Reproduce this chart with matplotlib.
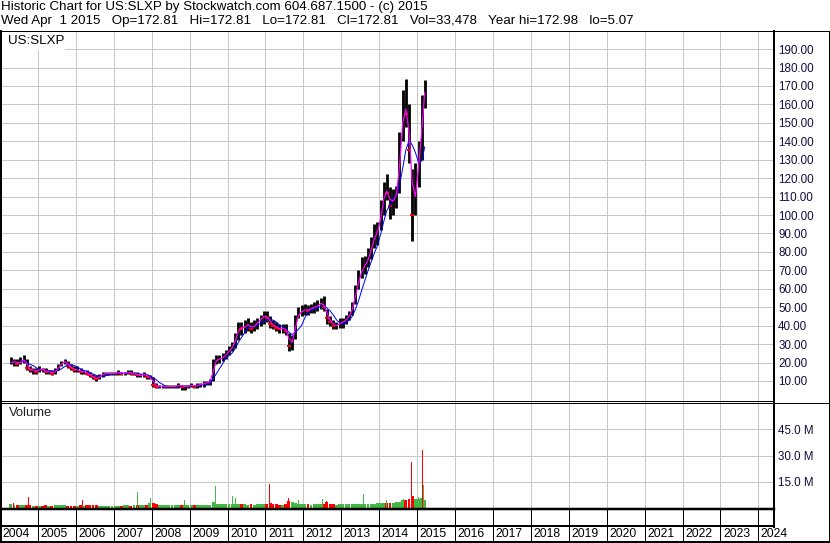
import matplotlib
matplotlib.use('Agg')
import matplotlib.pyplot as plt
import matplotlib.dates as mdates
import pandas as pd
import numpy as np

plt.rcParams['font.family'] = ['Liberation Sans', 'DejaVu Sans']

# monthly price bars, Apr 2004 .. Mar 2015 (last bar includes Apr 1 2015)
months = pd.date_range('2004-04-01', periods=132, freq='MS') + pd.Timedelta(days=14)

lows = [19, 18, 18, 19, 20, 16, 15, 14, 14,
        15, 15, 14, 14, 13, 14, 16, 18, 19, 17, 16, 15,
        15, 14, 14, 13, 12, 11, 10, 11, 12, 13, 13, 13,
        13, 13, 13, 13, 14, 13, 13, 12, 12, 12, 11, 11,
        7, 6, 6, 6, 6, 6, 6, 6, 6, 5, 5, 6,
        7, 6, 6, 7, 7, 8, 8, 10, 19, 20, 21, 22,
        24, 26, 28, 32, 35, 36, 37, 36, 37, 38, 40, 41,
        42, 39, 38, 37, 36, 36, 35, 26, 27, 33, 44, 45,
        46, 46, 47, 47, 48, 49, 48, 41, 40, 38, 38, 39,
        39, 41, 43, 46, 52, 60, 66, 68, 72, 76, 82, 84,
        92, 100, 108, 98, 100, 104, 112, 140, 148, 128, 86, 100,
        115, 130, 158]
highs = [23, 22, 22, 23, 24, 22, 18, 17, 17,
         18, 17, 17, 16, 16, 17, 19, 21, 22, 21, 19, 18,
         18, 17, 16, 16, 15, 14, 13, 14, 15, 15, 15, 15,
         15, 16, 15, 15, 16, 16, 15, 15, 14, 15, 14, 13,
         12, 9, 8, 8, 8, 8, 8, 8, 9, 8, 8, 8,
         9, 8, 9, 9, 10, 10, 11, 22, 24, 24, 25, 27,
         29, 31, 36, 42, 42, 43, 44, 42, 43, 44, 46, 48,
         48, 45, 43, 42, 41, 41, 41, 36, 35, 46, 50, 51,
         52, 51, 52, 53, 54, 55, 56, 49, 45, 43, 42, 44,
         44, 46, 48, 53, 62, 70, 77, 78, 82, 88, 95, 96,
         108, 118, 122, 115, 114, 116, 145, 168, 174, 160, 125, 128,
         140, 165, 173]
closes = [20, 21, 19, 21, 22, 17, 16, 16, 15,
          17, 16, 15, 15, 14, 16, 18, 20, 21, 18, 17, 16,
          16, 15, 15, 14, 13, 12, 11, 13, 14, 14, 14, 14,
          14, 15, 14, 14, 15, 14, 14, 13, 13, 14, 12, 12,
          8, 7, 7, 7, 7, 7, 7, 7, 8, 7, 7, 7,
          8, 7, 8, 8, 9, 9, 10, 20, 22, 22, 23, 25,
          27, 29, 34, 40, 38, 40, 41, 38, 41, 42, 44, 46,
          44, 41, 40, 39, 38, 39, 37, 29, 33, 44, 47, 48,
          49, 48, 50, 50, 51, 53, 50, 44, 42, 40, 40, 42,
          42, 44, 46, 51, 60, 66, 72, 73, 78, 84, 90, 92,
          104, 114, 112, 105, 110, 112, 140, 160, 155, 135, 100, 120,
          132, 160, 172.81]

# typical daily volume per month, millions
volume = [2.2, 1.8, 1.5, 1.8, 1.5, 2.0, 1.5, 1.2, 1.2,
          1.2, 1.4, 1.5, 1.2, 1.2, 1.5, 1.5, 1.8, 1.5, 1.2, 1.2, 1.2,
          1.2, 1.5, 1.2, 2.0, 2.0, 1.8, 1.5, 1.2, 1.2, 1.2, 1.2, 1.2,
          1.2, 1.2, 1.2, 1.5, 1.5, 1.2, 1.5, 1.8, 1.5, 1.8, 2.0, 3.0,
          3.0, 2.5, 2.0, 1.8, 1.5, 1.5, 1.5, 1.5, 1.8, 1.8, 1.5, 1.5,
          1.5, 1.5, 1.5, 1.5, 1.5, 1.8, 1.8, 3.5, 2.5, 2.2, 2.2, 2.2,
          2.2, 2.5, 2.2, 2.5, 2.2, 2.2, 1.8, 2.2, 1.8, 2.2, 2.2, 2.2,
          2.2, 2.8, 2.2, 2.2, 1.8, 1.8, 2.2, 4.0, 3.5, 2.8, 2.2, 2.2,
          2.2, 2.2, 1.8, 2.2, 2.2, 2.2, 2.5, 3.5, 2.2, 2.2, 1.8, 2.2,
          2.2, 2.2, 2.2, 2.2, 2.2, 2.2, 2.2, 2.5, 2.2, 2.2, 2.5, 2.8,
          2.8, 2.8, 2.8, 2.8, 2.8, 3.2, 3.2, 4.5, 4.5, 5.0, 7.0, 5.0,
          5.0, 6.0, 4.5]

# single-day volume spikes
spike_dates = pd.to_datetime(['2004-05-10', '2004-10-01', '2005-03-10', '2006-02-20',
                              '2006-03-05', '2007-08-15', '2007-12-05', '2007-12-15',
                              '2007-12-22', '2008-02-10', '2008-11-10', '2009-02-10',
                              '2009-09-05', '2009-10-20', '2010-02-20', '2010-03-20',
                              '2010-05-10', '2011-02-10', '2011-08-10', '2011-11-15',
                              '2012-03-15', '2012-07-05', '2012-08-10', '2013-02-15',
                              '2013-08-01', '2014-03-10', '2014-08-25', '2014-09-05',
                              '2014-10-15', '2014-11-06', '2015-01-15', '2015-02-23',
                              '2015-02-27', '2015-03-05'])
spike_vals = [3.0, 6.3, 3.0, 3.8, 4.5, 9.4, 7.6, 15.3, 6.0, 4.0, 4.4, 4.2,
              12.5, 4.5, 7.0, 5.5, 4.5, 13.5, 6.0, 4.5, 6.0, 5.0, 4.0, 4.0,
              8.0, 4.5, 5.0, 7.0, 6.0, 26.3, 6.5, 33.0, 17.7, 13.0]
spike_up = [False, False, True, False, False, True, True, False, True, False, True, True,
            True, True, True, True, False, False, False, True, True, True, False, True,
            True, True, True, True, False, False, True, False, True, True]

price_ticks = list(range(10, 200, 10))
vol_ticks = [15, 30, 45]
vol_labels = ['15.0 M', '30.0 M', '45.0 M']
years = list(range(2004, 2025))

header1 = 'Historic Chart for US:SLXP by Stockwatch.com 604.687.1500 - (c) 2015'
header2 = ('Wed Apr  1 2015   Op=172.81   Hi=172.81   Lo=172.81   Cl=172.81   '
           'Vol=33,478   Year hi=172.98   lo=5.07')

W, H = 830, 543
PT = 0.72  # points per pixel at 100 dpi
fig = plt.figure(figsize=(W / 100, H / 100), dpi=100)


def rect(x0, y0, x1, y1):
    return [x0 / W, 1 - y1 / H, (x1 - x0) / W, (y1 - y0) / H]


x_left = mdates.date2num(pd.Timestamp('2005-01-01')) - 26.7 / 38.5 * 365.25
x_right = mdates.date2num(pd.Timestamp('2005-01-01')) + (774 - 26.7) / 38.5 * 365.25
year_x = [mdates.date2num(pd.Timestamp(f'{y}-01-01')) for y in years]
mx = mdates.date2num(months)
grid_c = '#c8c8c8'
lab_c = '#101040'

# price panel
ax = fig.add_axes(rect(0, 31, 774, 401))
ax.set_xlim(x_left, x_right)
ax.set_ylim(-0.85, 199.8)
ax.set_xticks(year_x)
ax.set_yticks(price_ticks)
ax.set_yticklabels([f'{v:.2f}' for v in price_ticks], color=lab_c, fontsize=8.4)
ax.yaxis.tick_right()
ax.tick_params(axis='y', length=0, pad=3)
ax.tick_params(axis='x', length=0, labelbottom=False)
ax.grid(True, color=grid_c, lw=1 * PT)
ax.set_axisbelow(True)
for s in ax.spines.values():
    s.set_visible(False)

ax.vlines(mx, lows, highs, color='black', lw=2.8 * PT, zorder=2)
cl = pd.Series(closes)
down = cl < cl.shift(1)
ax.plot(mx[down.values], cl[down].values, ls='none', marker='_', ms=3.5,
        mew=1.4, color='red', zorder=3)
ax.plot(mx, cl.rolling(5, min_periods=1).mean(), color='#0000ff', lw=1 * PT, zorder=4)
ax.plot(mx, cl.rolling(2, min_periods=1).mean(), color='#ff00ff', lw=1.2 * PT, zorder=5)

# volume panel
av = fig.add_axes(rect(0, 402, 774, 508))
av.set_xlim(x_left, x_right)
av.set_ylim(0, 60.7)
av.set_xticks(year_x)
av.set_yticks(vol_ticks)
av.set_yticklabels(vol_labels, color=lab_c, fontsize=8.4)
av.yaxis.tick_right()
av.tick_params(axis='y', length=0, pad=3)
av.tick_params(axis='x', length=0, labelbottom=False)
av.grid(True, color=grid_c, lw=1 * PT)
av.set_axisbelow(True)
for s in av.spines.values():
    s.set_visible(False)

up = ~down.values
vcols = np.where(up, '#44b844', '#ff0000')
av.bar(mx, volume, width=28, color=vcols, align='center', zorder=2)
scols = ['#44b844' if u else '#ff0000' for u in spike_up]
av.bar(mdates.date2num(spike_dates), spike_vals, width=6, color=scols, zorder=3)
av.text(9 / 774, 1 - 11 / 106, 'Volume', transform=av.transAxes, fontsize=9.4,
        va='center', ha='left', color='#202020')

# overlay in pixel coordinates for frame, header and year row
ov = fig.add_axes([0, 0, 1, 1], zorder=10)
ov.set_xlim(0, W)
ov.set_ylim(H, 0)
ov.axis('off')
ov.patch.set_alpha(0)

ov.text(1, 7, header1, fontsize=9.6, va='center', ha='left')
ov.text(1, 21, header2, fontsize=9.6, va='center', ha='left')

ov.add_patch(plt.Rectangle((2, 32), 62, 17, color='white', zorder=1))
ov.text(8, 40.5, 'US:SLXP', fontsize=9.6, va='center', ha='left', zorder=2)

px_years = [ax.transData.transform((x, 0))[0] for x in year_x]
for y, p in zip(years, px_years):
    ov.text(p + 2.5, 534, str(y), fontsize=8.8, va='center', ha='left', zorder=2)
    if 0 < p < 774:
        ov.plot([p, p], [509, 541], color='black', lw=1 * PT, zorder=3)

k = 'black'
ov.plot([0, 829], [31, 31], color=k, lw=1 * PT, zorder=4)
ov.plot([1, 1], [31, 543], color=k, lw=2 * PT, zorder=4)
ov.plot([774, 774], [31, 527], color=k, lw=2 * PT, zorder=4)
ov.plot([829, 829], [31, 543], color=k, lw=1 * PT, zorder=4)
ov.plot([0, 774], [400.5, 400.5], color=k, lw=1 * PT, zorder=4)
ov.plot([0, 829], [402.5, 402.5], color=k, lw=1 * PT, zorder=4)
ov.plot([0, 774], [509, 509], color=k, lw=2.5 * PT, zorder=4)
ov.plot([0, 774], [526, 526], color=k, lw=2 * PT, zorder=4)
ov.plot([0, 829], [541.5, 541.5], color=k, lw=2 * PT, zorder=4)

fig.savefig('out.png', dpi=100)
